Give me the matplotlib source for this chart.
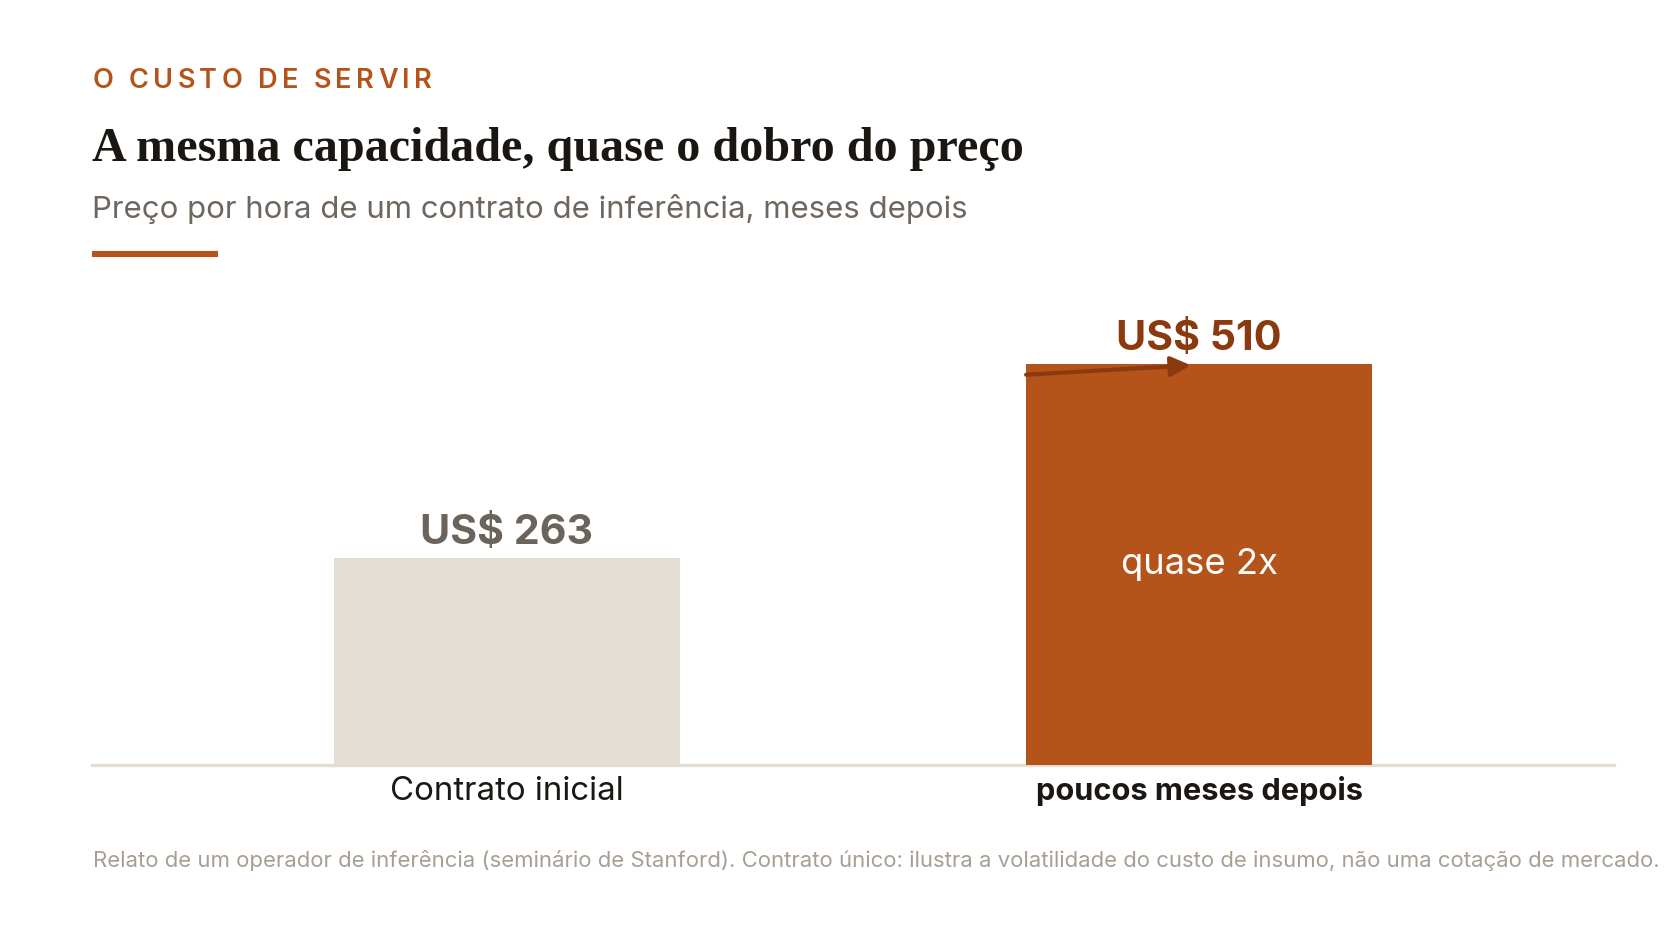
import matplotlib
matplotlib.use('Agg')
import matplotlib.pyplot as plt

# ---------------- data ----------------
categories = ["Contrato inicial", "poucos meses depois"]
values = [263, 510]
value_labels = ["US$ 263", "US$ 510"]
inside_label = "quase 2x"
kicker = "O CUSTO DE SERVIR"
title = "A mesma capacidade, quase o dobro do preço"
subtitle = "Preço por hora de um contrato de inferência, meses depois"
footnote = ("Relato de um operador de inferência (seminário de Stanford). Contrato único: "
            "ilustra a volatilidade do custo de insumo, não uma cotação de mercado.")

# ---------------- style ----------------
SANS = ['Inter', 'DejaVu Sans']
SERIF = ['Liberation Serif', 'DejaVu Serif']
ORANGE = '#B4531A'
DARK_ORANGE = '#8B3A10'
BEIGE = '#E4DDD3'
GREY_LABEL = '#6B645C'
SUB_GREY = '#6F675F'
FOOT_GREY = '#A89F94'
INK = '#1A1612'

W, H = 1672, 944
fig = plt.figure(figsize=(W / 100, H / 100), dpi=100)
fig.patch.set_facecolor('white')
renderer = fig.canvas.get_renderer()


def fx(x):
    return x / W


def fy(y):
    return 1 - y / H


def fit(t, target):
    w = t.get_window_extent(renderer).width
    if w > 0:
        t.set_fontsize(t.get_fontsize() * target / w)


# ---------------- chart axes ----------------
ax = fig.add_axes([fx(91.7), fy(765), (1614.4 - 91.7) / W, (765 - 300) / H])
pos = list(range(len(categories)))
bar_w = 0.5
ax.bar(pos, values, width=bar_w, color=[BEIGE, ORANGE], zorder=2)
ax.set_xlim(-0.6, 1.6)
ax.set_ylim(0, 591)
for s in ax.spines.values():
    s.set_visible(False)
ax.set_yticks([])
ax.axhline(0, color=BEIGE, lw=2.4, zorder=1, clip_on=False)

ax.set_xticks(pos, categories)
ax.tick_params(axis='x', length=0, pad=25.2)
for lab in ax.get_xticklabels():
    lab.set_va('baseline')
    lab.set_family(SANS)
    lab.set_color('#1A1714')
    lab.set_fontsize(23)
ax.get_xticklabels()[1].set_fontweight('bold')

# value labels
vcols = [GREY_LABEL, DARK_ORANGE]
vtexts = []
for p, v, lbl, c in zip(pos, values, value_labels, vcols):
    t = ax.annotate(lbl, (p, v), xytext=(0, 14), textcoords='offset pixels',
                    ha='center', va='baseline', fontsize=31, fontweight='bold',
                    color=c, family=SANS, zorder=4)
    vtexts.append(t)

# arrow toward the second bar's top
ax.annotate('', xy=(pos[1] - 0.012, values[1] - 2),
            xytext=(pos[1] - bar_w / 2, values[1] - 14),
            arrowprops=dict(arrowstyle='-|>,head_length=0.6,head_width=0.3',
                            mutation_scale=20, color=DARK_ORANGE, lw=3,
                            shrinkA=0, shrinkB=0), zorder=5)

inside = ax.text(pos[1], values[1] / 2, inside_label, ha='center', va='center',
                 color='white', fontsize=29, family=SANS, zorder=4)

# ---------------- header ----------------
t_title = fig.text(fx(92.3), fy(161), title, ha='left', va='baseline',
                   fontsize=32, fontweight='bold', family=SERIF, color=INK)
t_sub = fig.text(fx(92.3), fy(218.3), subtitle, ha='left', va='baseline',
                 fontsize=22.5, family=SANS, color=SUB_GREY)
t_foot = fig.text(fx(93.3), fy(867.3), footnote, ha='left', va='baseline',
                  fontsize=16.5, family=SANS, color=FOOT_GREY)

# orange rule
fig.add_artist(plt.Line2D([fx(92.3), fx(217.7)], [fy(254), fy(254)],
                          color=ORANGE, lw=4.4, solid_capstyle='butt'))

# fit widths to reference
fig.canvas.draw()
fit(t_title, 932)
fit(t_sub, 875)
fit(t_foot, 1562)
fit(vtexts[0], 173)
vtexts[1].set_fontsize(vtexts[0].get_fontsize())
fit(inside, 157)
labs = ax.get_xticklabels()
fit(labs[0], 233)
fit(labs[1], 326)

# kicker with letter spacing
kick_size = 19.5
kick_kw = dict(fontsize=kick_size, fontweight='semibold', family=SANS, color=ORANGE,
               ha='left', va='baseline')


def measure(s):
    t = fig.text(0, 0, s, **kick_kw)
    w = t.get_window_extent(renderer).width
    t.remove()
    return w


bar_w_px = measure('|')
natural = measure(kicker)
gaps = len(kicker) - 1
track = (431.7 - 92.3 - natural) / gaps
for i, ch in enumerate(kicker):
    if ch == ' ':
        continue
    off = (measure(kicker[:i] + '|') - bar_w_px) if i > 0 else 0
    fig.text(fx(92.3 + off + i * track), fy(88.3), ch, **kick_kw)

fig.savefig('out.png', dpi=100, facecolor='white')
